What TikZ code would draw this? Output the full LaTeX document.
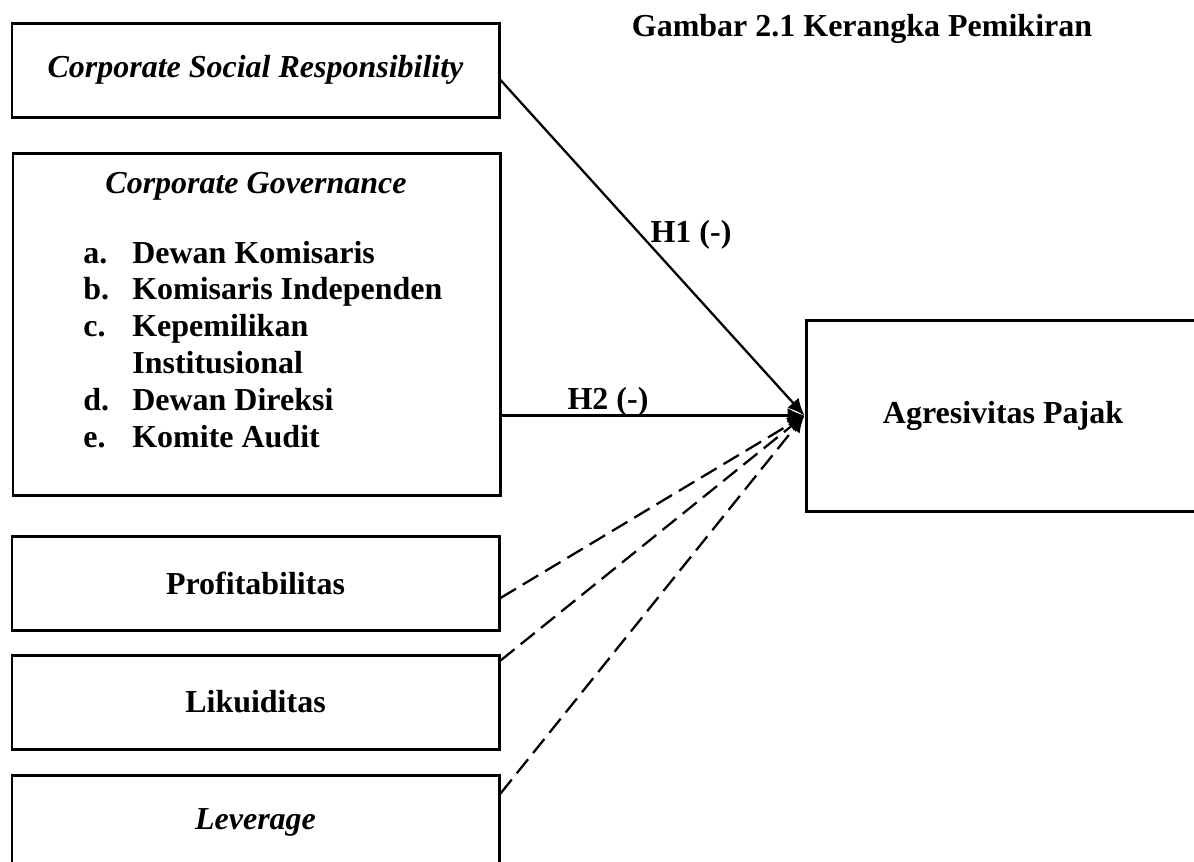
\documentclass[tikz,border=0pt]{standalone}
\usepackage{fontspec}
\setmainfont{Liberation Serif}
\usetikzlibrary{arrows.meta}

\begin{document}
\begin{tikzpicture}[
        varbox/.style={draw, line width=1.7pt, minimum width=9.74cm, minimum height=1.88cm, inner sep=0pt},
        bigfont/.style={font=\fontsize{18.2}{21}\selectfont\bfseries},
        link/.style={line width=1.3pt, -{Latex[length=0.34cm, width=0.3cm]}},
        dashlink/.style={link, dash pattern=on 0.36cm off 0.16cm}
    ]
                \useasboundingbox (0, 0) rectangle (23.88, -17.22);

                \node[bigfont] (judul) at (17.24, -0.58) {Gambar 2.1 Kerangka Pemikiran};

                % independent variables
                \node[varbox, bigfont] (csr) at (5.11, -1.40) {\itshape Corporate Social Responsibility};
                \node[varbox, minimum height=6.84cm] (cg) at (5.13, -6.48) {};
                \node[bigfont, anchor=base] (cgjudul) at (5.12, -3.86) {\itshape Corporate Governance};
                \node[bigfont, anchor=base west, inner sep=0pt] (cglist) at (1.66, -5.26) {%
                    \begin{tabular}[t]{@{}p{0.98cm}@{}l@{}}
                        a. & Dewan Komisaris \\
                        b. & Komisaris Independen \\
                        c. & Kepemilikan \\
                           & Institusional \\
                        d. & Dewan Direksi \\
                        e. & Komite Audit
                    \end{tabular}};
                \node[varbox, bigfont] (prof) at (5.11, -11.66) {Profitabilitas};
                \node[varbox, bigfont] (liku) at (5.11, -14.04) {Likuiditas};
                \node[varbox, bigfont] (lev) at (5.11, -16.44) {\itshape Leverage};

                % dependent variable
                \node[varbox, bigfont, minimum width=7.88cm, minimum height=3.82cm] (agr) at (20.06, -8.31) {Agresivitas Pajak};

                % hypotheses
                \draw[link] ([yshift=-0.2cm]csr.east) -- (agr.west);
                \draw[link] (cg.east |- agr.west) -- (agr.west);
                \node[bigfont] (h1) at (13.82, -4.70) {H1 (-)};
                \node[bigfont] (h2) at (12.16, -8.04) {H2 (-)};

                % control variables
                \draw[dashlink] ([yshift=-0.3cm]prof.east) -- (agr.west);
                \draw[dashlink] ([yshift=-0.14cm]liku.north east) -- (agr.west);
                \draw[dashlink] ([yshift=-0.4cm]lev.north east) -- (agr.west);
            \end{tikzpicture}
\end{document}
